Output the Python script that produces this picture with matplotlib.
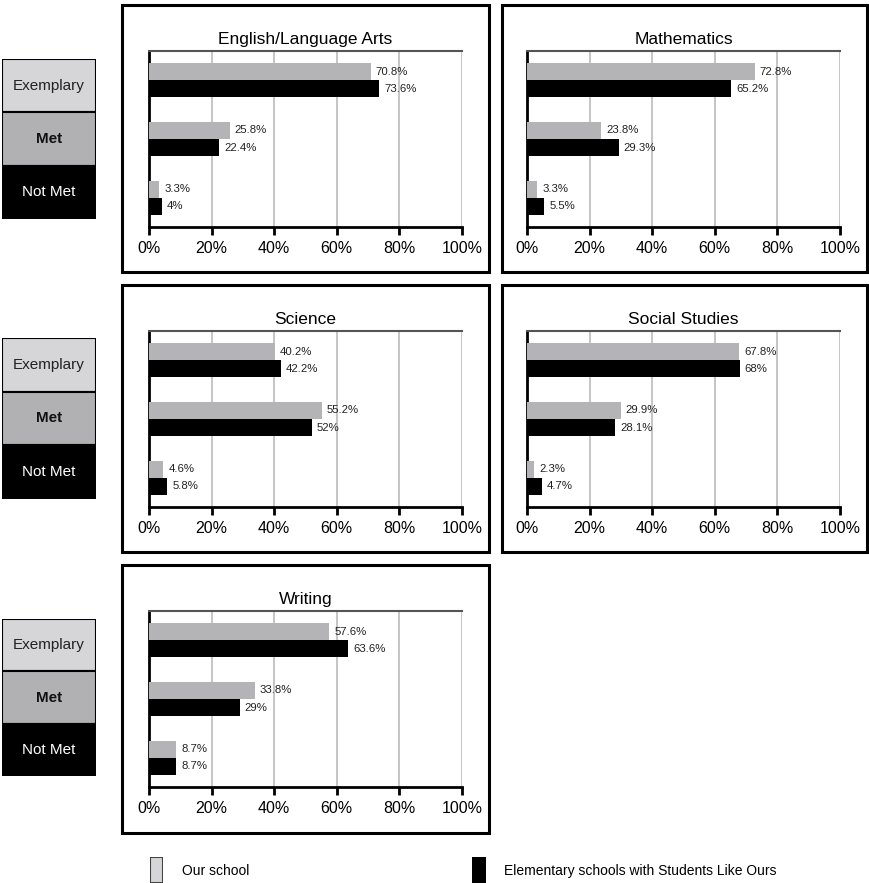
import numpy as np
import matplotlib
matplotlib.use("Agg")
import matplotlib.pyplot as plt
from matplotlib.patches import Rectangle

plt.rcParams['font.family'] = ['Liberation Sans', 'DejaVu Sans']

# data
levels = ["Exemplary", "Met", "Not Met"]
subjects = ["English/Language Arts", "Mathematics", "Science", "Social Studies", "Writing"]
our_school = {
    "English/Language Arts": [70.8, 25.8, 3.3],
    "Mathematics": [72.8, 23.8, 3.3],
    "Science": [40.2, 55.2, 4.6],
    "Social Studies": [67.8, 29.9, 2.3],
    "Writing": [57.6, 33.8, 8.7],
}
like_ours = {
    "English/Language Arts": [73.6, 22.4, 4],
    "Mathematics": [65.2, 29.3, 5.5],
    "Science": [42.2, 52, 5.8],
    "Social Studies": [68, 28.1, 4.7],
    "Writing": [63.6, 29, 8.7],
}
ticks = [0, 20, 40, 60, 80, 100]
legend_labels = ["Our school", "Elementary schools with Students Like Ours"]

GRAY = "#b4b4b6"
LIGHT = "#d6d6d8"
MID = "#b1b1b3"

W, H = 869, 883
fig = plt.figure(figsize=(W / 100, H / 100), dpi=100)


def px_axes(x0, y0, x1, y1, **kw):
    # pixel box (top-left origin) -> figure axes
    return fig.add_axes([x0 / W, 1 - y1 / H, (x1 - x0) / W, (y1 - y0) / H], **kw)


def frame_box(x0, y0, x1, y1, lw=2.2):
    fig.patches.append(Rectangle((x0 / W, 1 - y1 / H), (x1 - x0) / W, (y1 - y0) / H,
                                 transform=fig.transFigure, fill=False,
                                 edgecolor="black", linewidth=lw))


cols = [(149, 462, 122, 489), (527, 840, 502, 867)]
rows = [(51, 227, 5, 272, 59, 219), (331, 507, 285, 552, 338, 499), (611, 787, 565, 833, 619, 776)]

for i, subj in enumerate(subjects):
    r, c = divmod(i, 2)
    ax0, ax1, bx0, bx1 = cols[c]
    ay0, ay1, by0, by1, ly0, ly1 = rows[r]
    frame_box(bx0, by0, bx1, by1)
    ax = px_axes(ax0, ay0, ax1, ay1)
    y = np.arange(len(levels))
    h = 0.29
    ours = our_school[subj]
    like = like_ours[subj]
    ax.barh(y - h / 2, ours, height=h, color=GRAY, zorder=3)
    ax.barh(y + h / 2, like, height=h, color="black", zorder=3)
    for yi, v in zip(y, ours):
        ax.text(v + 1.6, yi - h / 2, f"{v:g}%", va="center", ha="left", fontsize=8.2, color="#222222")
    for yi, v in zip(y, like):
        ax.text(v + 1.6, yi + h / 2, f"{v:g}%", va="center", ha="left", fontsize=8.2, color="#222222")
    ax.set_xlim(0, 100)
    ax.set_ylim(2.5, -0.5)
    ax.set_xticks(ticks)
    ax.set_xticklabels([f"{t}%" for t in ticks], fontsize=11.5)
    ax.set_yticks([])
    ax.grid(axis="x", color="#c0c0c0", linewidth=1.3, zorder=0)
    ax.tick_params(axis="x", direction="out", length=6, width=2, color="black", pad=4)
    ax.spines["left"].set_linewidth(2)
    ax.spines["bottom"].set_linewidth(2)
    ax.spines["top"].set_color("#555555")
    ax.spines["top"].set_linewidth(1.5)
    ax.spines["right"].set_visible(False)
    ax.set_title(subj, fontsize=12.5, pad=5)

    # level key boxes on the left of each row
    if c == 0:
        kax = px_axes(2, ly0, 96, ly1)
        kax.set_xlim(0, 1)
        kax.set_ylim(3, 0)
        kax.axis("off")
        fills = [LIGHT, MID, "black"]
        tcols = ["#222222", "#111111", "white"]
        weights = ["normal", "bold", "normal"]
        for k, lv in enumerate(levels):
            kax.add_patch(Rectangle((0, k), 1, 1, facecolor=fills[k], edgecolor="black", linewidth=1.5))
            kax.text(0.5, k + 0.5, lv, ha="center", va="center", fontsize=11,
                     color=tcols[k], fontweight=weights[k])

# legend at the bottom
lx = px_axes(150, 857, 163, 883)
lx.axis("off")
lx.add_patch(Rectangle((0, 0), 1, 1, facecolor=LIGHT, edgecolor="#444444", linewidth=1.5,
                       transform=lx.transAxes))
fig.text(182 / W, 1 - 871 / H, legend_labels[0], fontsize=10, va="center", ha="left")
lx2 = px_axes(472, 857, 486, 883)
lx2.axis("off")
lx2.add_patch(Rectangle((0, 0), 1, 1, facecolor="black", edgecolor="black", linewidth=1.5,
                        transform=lx2.transAxes))
fig.text(504 / W, 1 - 871 / H, legend_labels[1], fontsize=10, va="center", ha="left")

fig.savefig("out.png", dpi=100)
